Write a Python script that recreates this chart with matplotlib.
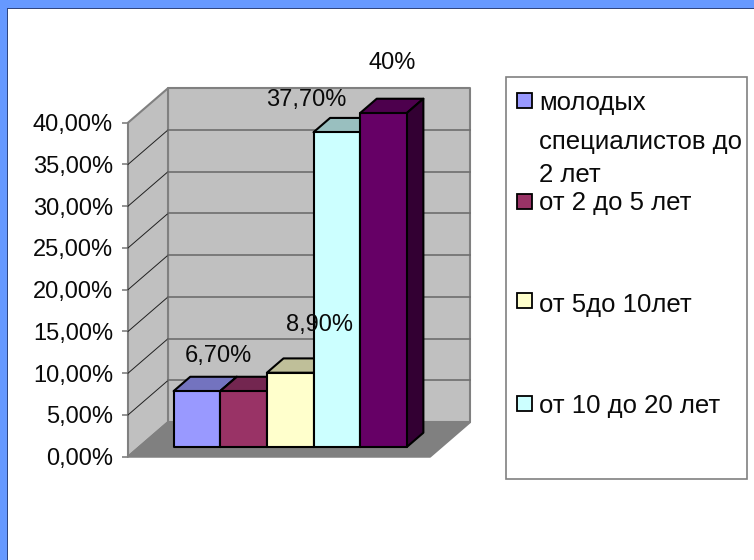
import matplotlib
matplotlib.use('Agg')
import matplotlib.pyplot as plt
from matplotlib.patches import Polygon, Rectangle
from matplotlib.transforms import Affine2D

plt.rcParams['font.family'] = ['Liberation Sans', 'DejaVu Sans']

values = [6.7, 6.7, 8.9, 37.7, 40]
value_labels = ['6,70%', None, '8,90%', '37,70%', '40%']
label_offsets = [(21, 35), None, (29, 48), (-31, 32), (9, 50)]
colors = ['#9999FF', '#993366', '#FFFFCC', '#CCFFFF', '#660066']
top_colors = ['#7373BF', '#732650', '#BFBF99', '#99BFBF', '#4D004D']
side_colors = ['#4D4D80', '#4D1A33', '#808066', '#668080', '#330033']
y_ticks = [0, 5, 10, 15, 20, 25, 30, 35, 40]
y_tick_labels = ['0,00%', '5,00%', '10,00%', '15,00%', '20,00%', '25,00%', '30,00%', '35,00%', '40,00%']
legend_lines = [['молодых', 'специалистов до', '2 лет'], ['от 2 до 5 лет'], ['от 5до 10лет'], ['от 10 до 20 лет']]

W, H = 754, 560
fig = plt.figure(figsize=(W / 100, H / 100), dpi=100, facecolor='white')


def py(y):
    return 1 - y / H


# blue slide frame
fig.patches.append(Rectangle((0, py(8)), 1, 8 / H, transform=fig.transFigure, color='#6699FF', lw=0))
fig.patches.append(Rectangle((0, 0), 7 / W, 1, transform=fig.transFigure, color='#6699FF', lw=0))
fig.patches.append(Rectangle((7 / W, py(9)), 1, 1 / H, transform=fig.transFigure, color='#2F4680', lw=0))
fig.patches.append(Rectangle((7 / W, 0), 1 / W, py(8), transform=fig.transFigure, color='#2F4680', lw=0))

# front plane of the 3d box
ax = fig.add_axes([128 / W, py(456.7), 302 / W, 334 / H])
ax.set_xlim(-0.5, 0.5)
ax.set_ylim(0, 40)
ax.patch.set_visible(False)
for s in ax.spines.values():
    s.set_visible(False)
ax.set_xticks([])
ax.set_yticks(y_ticks)
ax.set_yticklabels(y_tick_labels, fontsize=17, color='#0A0A0A')
ax.tick_params(axis='y', length=4.5, width=1.2, color='#808080', pad=6.3)

DEPTH_X, DEPTH_Y = 40, 34.5
wall_edge = '#808080'


def depth_px(d):
    return ax.transData + Affine2D().translate(d * DEPTH_X, d * DEPTH_Y)


def quad(points, color, edge=None, lw=1.0, zorder=1):
    # points are (x, y, depth), mapped through the axes scale
    disp = [depth_px(d).transform((x, y)) for x, y, d in points]
    p = Polygon(disp, closed=True, facecolor=color, edgecolor=edge if edge else color,
                lw=lw, transform=None, zorder=zorder, joinstyle='round', clip_on=False)
    ax.add_artist(p)
    p.set_clip_on(False)


# walls and floor
quad([(-0.5, 0, 1), (0.5, 0, 1), (0.5, 40, 1), (-0.5, 40, 1)], '#C0C0C0', wall_edge, 1.5, 1)
quad([(-0.5, 0, 0), (-0.5, 0, 1), (-0.5, 40, 1), (-0.5, 40, 0)], '#C0C0C0', wall_edge, 1.5, 1)
quad([(-0.5, 0, 0), (0.5, 0, 0), (0.5, 0, 1), (-0.5, 0, 1)], '#808080', wall_edge, 1.5, 1)

# gridlines, side wall and back wall
for t in y_ticks[1:-1]:
    a = depth_px(0).transform((-0.5, t))
    b = depth_px(1).transform((-0.5, t))
    c = depth_px(1).transform((0.5, t))
    side = plt.Line2D([a[0], b[0]], [a[1], b[1]], color='#202020', lw=0.7, transform=None, zorder=2)
    wall = plt.Line2D([b[0], c[0]], [b[1], c[1]], color='#6E6E6E', lw=1.2, transform=None, zorder=2)
    ax.add_artist(side)
    ax.add_artist(wall)
    side.set_clip_on(False)
    wall.set_clip_on(False)

# bars
bar_w = 0.1544
d0, d1 = 0.28, 0.695
start = -bar_w * len(values) / 2
for i, v in enumerate(values):
    x0 = start + i * bar_w
    x1 = x0 + bar_w
    z = 3 + i
    quad([(x0, 0, d0), (x1, 0, d0), (x1, v, d0), (x0, v, d0)], colors[i], 'black', 1.5, z + 0.3)
    quad([(x0, v, d0), (x1, v, d0), (x1, v, d1), (x0, v, d1)], top_colors[i], 'black', 1.5, z + 0.1)
    quad([(x1, 0, d0), (x1, 0, d1), (x1, v, d1), (x1, v, d0)], side_colors[i], 'black', 1.5, z + 0.2)

# value labels
for i, v in enumerate(values):
    if value_labels[i] is None:
        continue
    xc = start + (i + 0.5) * bar_w
    ax.annotate(value_labels[i], xy=(xc, v), xycoords=depth_px(d0), xytext=label_offsets[i],
                textcoords='offset pixels', ha='center', va='center', fontsize=17,
                color='#0A0A0A', zorder=20, annotation_clip=False)

# legend box
leg = fig.add_axes([0, 0, 1, 1])
leg.set_xlim(0, W)
leg.set_ylim(H, 0)
leg.axis('off')
leg.patch.set_visible(False)
leg.add_patch(Rectangle((505.7, 77), 241.3, 402, facecolor='white', edgecolor='#808080', lw=1.2, zorder=0))
swatch_y = [100, 201.7, 300.7, 403]
baselines = [[110, 149, 182], [210], [312], [413]]
for i, lines in enumerate(legend_lines):
    leg.add_patch(Rectangle((517, swatch_y[i] - 7.5), 15, 15, facecolor=colors[i], edgecolor='black', lw=1.3))
    for line, y in zip(lines, baselines[i]):
        leg.text(539, y, line, fontsize=18.5, va='baseline', ha='left', color='#0A0A0A')

fig.savefig('out.png', dpi=100, facecolor='white')
